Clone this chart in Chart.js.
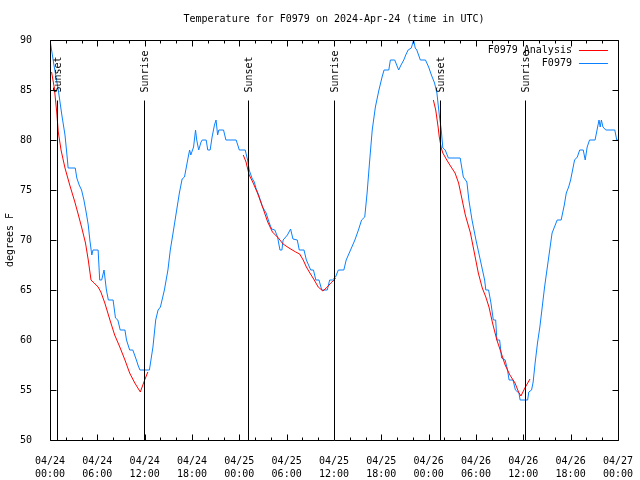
<!DOCTYPE html>
<html>
<head>
<meta charset="utf-8">
<title>Temperature for F0979</title>
<script src="https://cdn.jsdelivr.net/npm/chart.js@4"></script>
<style>
  html, body { margin: 0; padding: 0; background: #fff; }
  canvas { display: block; }
</style>
</head>
<body>
<canvas id="chart" width="640" height="480"></canvas>
<script>
// Data (x = hours since 04/24 00:00 UTC)
const TITLE = "Temperature for F0979 on 2024-Apr-24 (time in UTC)";
const xTickLabels = [
  ["04/24", "00:00"], ["04/24", "06:00"], ["04/24", "12:00"], ["04/24", "18:00"],
  ["04/25", "00:00"], ["04/25", "06:00"], ["04/25", "12:00"], ["04/25", "18:00"],
  ["04/26", "00:00"], ["04/26", "06:00"], ["04/26", "12:00"], ["04/26", "18:00"],
  ["04/27", "00:00"]
];
const yTicks = [50, 55, 60, 65, 70, 75, 80, 85, 90];

const sunHours  = [0.88, 11.87, 25.14, 36.0, 49.39, 60.25];
const sunLabels = ["Sunset", "Sunrise", "Sunset", "Sunrise", "Sunset", "Sunrise"];

// F0979 observations
const obsHours = [
  0.0, 0.5, 1.05, 1.5, 1.9, 2.15, 2.3, 3.2, 3.4, 3.7, 4.0, 4.3, 4.6, 4.85, 5.05, 5.3, 5.45, 6.1,
  6.3, 6.55, 6.85, 7.15, 7.4, 8.0, 8.3, 8.6, 8.9, 9.5, 9.7, 10.1, 10.5, 10.95, 11.15, 11.4, 12.6,
  13.05, 13.4, 13.7, 14.0, 14.5, 14.95, 15.25, 15.6, 16.0, 16.4, 16.75, 17.05, 17.5, 17.7, 17.85,
  18.2, 18.45, 18.6, 18.85, 19.15, 19.3, 19.8, 20.0, 20.3, 20.55, 20.85, 21.05, 21.25, 21.4, 22.0,
  22.3, 23.6, 24.0, 24.75, 25.05, 25.25, 25.6, 25.9, 26.1, 26.45, 26.95, 27.4, 27.8, 28.1, 28.5,
  28.85, 29.15, 29.4, 29.55, 30.1, 30.5, 30.8, 31.35, 31.6, 32.2, 32.5, 33.05, 33.4, 33.7, 34.1,
  34.45, 35.15, 35.45, 35.8, 36.2, 36.55, 37.25, 37.55, 38.1, 38.65, 39.1, 39.5, 39.9, 40.2, 40.5,
  40.85, 41.25, 41.7, 42.1, 42.35, 42.95, 43.15, 43.7, 43.95, 44.2, 44.5, 44.85, 45.1, 45.4, 45.8,
  46.1, 46.3, 46.5, 46.95, 47.6, 48.0, 48.35, 48.75, 49.05, 49.35, 49.6, 49.8, 50.1, 50.5, 52.0,
  52.4, 52.85, 53.1, 53.5, 54.0, 54.55, 55.1, 55.25, 55.6, 55.9, 56.2, 56.5, 56.65, 57.0, 57.25,
  57.7, 58.0, 58.2, 58.7, 59.0, 59.45, 59.6, 60.55, 60.7, 61.05, 61.25, 61.5, 61.8, 62.1, 62.4,
  62.7, 63.05, 63.35, 63.65, 63.9, 64.3, 64.8, 65.2, 65.45, 65.75, 66.0, 66.3, 66.5, 66.85, 67.15,
  67.6, 67.85, 68.1, 68.4, 69.1, 69.35, 69.6, 69.75, 69.9, 70.1, 70.45, 71.6, 71.85, 72.0
];
const obsTemps = [
  90, 87.5, 85, 82.5, 80.5, 78.5, 77.2, 77.2, 76.2, 75.5, 75, 74, 72.7, 71.5, 70, 68.5, 69, 69,
  66, 66, 67, 65, 64, 64, 62.2, 62, 61, 61, 60, 59, 59, 58, 57.5, 57, 57,
  59.3, 62, 63, 63.3, 65, 67, 69, 70.7, 72.7, 74.7, 76.1, 76.3, 78.2, 79, 78.5,
  79.3, 81, 80, 79, 79.8, 80, 80, 79, 79, 80.3, 81.5, 82, 80.5, 81, 81,
  80, 80, 79, 79, 78, 77, 76.2, 75.8, 75.2, 74.5, 73.3, 72.7, 71.7, 71.1, 71,
  70.3, 69, 69, 70, 70.5, 71.1, 70.1, 70, 69, 69, 68, 67, 67, 66, 66,
  65, 65, 66, 66, 66.3, 67, 67, 68, 69, 70, 71, 72, 72.3, 74.7, 77.7,
  81, 83.3, 85, 86.3, 87, 87, 88, 88, 87.5, 87, 87.5, 88, 88.5, 89, 89.2,
  90, 89.2, 89, 88, 88, 87.3, 86.5, 85.7, 84.7, 82.5, 81, 79.2, 79, 78.2, 78.2,
  76.3, 75.8, 74, 72, 70, 68, 66, 65, 65, 63.7, 62, 62, 60, 60, 58.2,
  58, 57, 56, 56, 55, 54.7, 54, 54, 54.8, 55, 55.8, 57.7, 59.7, 61.3, 63.3,
  65.3, 67.3, 69, 70.7, 71.2, 72, 72, 73.5, 74.7, 75.3, 76, 77.2, 78, 78.3, 79,
  79, 78, 79.3, 80, 80, 81, 82, 81.3, 82, 81.3, 81, 81, 80, 80
];

// F0979 Analysis (null = gap between the three runs)
const analysisHours = [
  0.2, 0.55, 0.85, 1.05, 1.4, 1.9, 2.5, 3.15, 3.6, 4.0, 4.5, 4.85, 5.2, 5.6, 6.1, 6.45, 6.95,
  7.6, 8.2, 8.85, 9.5, 10.1, 10.75, 11.45, 12.0, 12.4,
  18.0,
  24.5, 24.85, 25.25, 25.7, 26.3, 26.95, 27.6, 28.2, 28.95, 29.55, 30.3, 31.15, 31.65, 32.1,
  32.5, 32.95, 33.5, 34.0, 34.6, 35.15, 35.6, 36.0, 36.2,
  42.0,
  48.6, 48.9, 49.2, 49.35, 49.6, 49.8, 50.3, 50.85, 51.35, 51.8, 52.2, 52.65, 53.3, 53.9, 54.3,
  54.8, 55.25, 55.65, 56.1, 56.65, 57.2, 57.7, 58.3, 58.95, 59.4, 59.7, 60.2, 60.85
];
const analysisTemps = [
  86.8, 85.2, 82.8, 80.8, 79, 77.2, 75.5, 73.8, 72.5, 71.3, 69.7, 68, 66, 65.7, 65.3, 64.8, 63.7,
  62, 60.5, 59.3, 58, 56.7, 55.7, 54.8, 56, 56.8,
  null,
  78.5, 77.8, 76.5, 75.8, 74.7, 73.3, 71.8, 70.8, 70.2, 69.6, 69.2, 68.8, 68.6, 68,
  67.3, 66.7, 66, 65.3, 64.9, 65.3, 65.7, 66, 66.2,
  null,
  84, 83, 81.3, 80.3, 79.2, 78.7, 78, 77.3, 76.7, 75.7, 74.2, 72.5, 70.7, 68.3, 66.7,
  65.2, 64.3, 63.3, 61.7, 60, 58.7, 57.5, 56.5, 55.7, 54.8, 54.4, 55.2, 56.1
];

const FONT = "'DejaVu Sans Mono', 'Liberation Mono', monospace";
const RED = "#ff0000";
const BLUE = "#0a80ff";

const toPoints = (xs, ys) => xs.map((x, i) => ({ x: x, y: ys[i] }));

// gnuplot-ish frame: border, inward ticks, sun lines, legend, title
const framePlugin = {
  id: "frame",
  afterDatasetsDraw(chart) {
    const { ctx, chartArea: a, scales: { x, y } } = chart;
    const top = Math.round(y.getPixelForValue(84)) + 0.5;
    ctx.save();
    ctx.strokeStyle = "#000";
    ctx.lineWidth = 1;
    ctx.fillStyle = "#000";
    ctx.font = "10px " + FONT;
    sunHours.forEach((h, i) => {
      const px = Math.round(x.getPixelForValue(h)) + 0.5;
      ctx.beginPath();
      ctx.moveTo(px, top);
      ctx.lineTo(px, a.bottom);
      ctx.stroke();
      ctx.save();
      ctx.translate(px + 1, top - 8);
      ctx.rotate(-Math.PI / 2);
      ctx.textAlign = "left";
      ctx.textBaseline = "middle";
      ctx.fillText(sunLabels[i], 0, 0);
      ctx.restore();
    });
    ctx.restore();
  },
  afterDraw(chart) {
    const { ctx, chartArea: a, scales: { x, y } } = chart;
    const L = Math.round(a.left) + 0.5, R = Math.round(a.right) + 0.5;
    const T = Math.round(a.top) + 0.5, B = Math.round(a.bottom) + 0.5;
    ctx.save();
    ctx.strokeStyle = "#000";
    ctx.lineWidth = 1;
    ctx.beginPath();
    // x ticks every 2h, longer every 6h
    for (let h = 0; h <= 72; h += 2) {
      const px = Math.round(x.getPixelForValue(h)) + 0.5;
      const len = h % 6 === 0 ? 6 : 3;
      ctx.moveTo(px, B); ctx.lineTo(px, B - len);
      ctx.moveTo(px, T); ctx.lineTo(px, T + len);
    }
    yTicks.forEach(v => {
      const py = Math.round(y.getPixelForValue(v)) + 0.5;
      ctx.moveTo(L, py); ctx.lineTo(L + 6, py);
      ctx.moveTo(R, py); ctx.lineTo(R - 6, py);
    });
    ctx.rect(L, T, R - L, B - T);
    ctx.stroke();

    // title
    ctx.fillStyle = "#000";
    ctx.font = "10px " + FONT;
    ctx.textAlign = "center";
    ctx.textBaseline = "middle";
    ctx.fillText(TITLE, (a.left + a.right) / 2, 19);

    // legend
    const items = [["F0979 Analysis", RED], ["F0979", BLUE]];
    ctx.textAlign = "right";
    items.forEach(([label, col], i) => {
      const ly = a.top + 10 + i * 13;
      ctx.fillStyle = "#000";
      ctx.fillText(label, a.right - 46, ly);
      ctx.strokeStyle = col;
      ctx.beginPath();
      ctx.moveTo(a.right - 39, Math.round(ly) + 0.5);
      ctx.lineTo(a.right - 10, Math.round(ly) + 0.5);
      ctx.stroke();
    });
    ctx.restore();
  }
};

new Chart(document.getElementById("chart"), {
  type: "line",
  data: {
    datasets: [
      {
        label: "F0979 Analysis",
        data: toPoints(analysisHours, analysisTemps),
        borderColor: RED,
        borderWidth: 1,
        pointRadius: 0,
        tension: 0,
        spanGaps: false
      },
      {
        label: "F0979",
        data: toPoints(obsHours, obsTemps),
        borderColor: BLUE,
        borderWidth: 1,
        pointRadius: 0,
        tension: 0
      }
    ]
  },
  options: {
    responsive: false,
    animation: false,
    devicePixelRatio: 1,
    layout: { padding: { left: 0, right: 20, top: 40, bottom: 0 } },
    plugins: { legend: { display: false }, tooltip: { enabled: false }, title: { display: false } },
    scales: {
      x: {
        type: "linear",
        min: 0,
        max: 72,
        grid: { display: false },
        border: { display: false },
        afterBuildTicks: s => { s.ticks = xTickLabels.map((_, i) => ({ value: i * 6 })); },
        afterFit: s => { s.height = 40; },
        ticks: {
          autoSkip: false,
          maxRotation: 0,
          padding: 7,
          color: "#000",
          font: { family: FONT, size: 10, lineHeight: 1.3 },
          callback: (v, i) => xTickLabels[i]
        }
      },
      y: {
        min: 50,
        max: 90,
        grid: { display: false },
        border: { display: false },
        afterBuildTicks: s => { s.ticks = yTicks.map(v => ({ value: v })); },
        afterFit: s => { s.width = 50; },
        title: {
          display: true,
          text: "degrees F",
          color: "#000",
          font: { family: FONT, size: 10 },
          padding: { top: 4, bottom: 0 }
        },
        ticks: {
          padding: 10,
          color: "#000",
          font: { family: FONT, size: 10 }
        }
      }
    }
  },
  plugins: [framePlugin]
});
</script>
</body>
</html>
